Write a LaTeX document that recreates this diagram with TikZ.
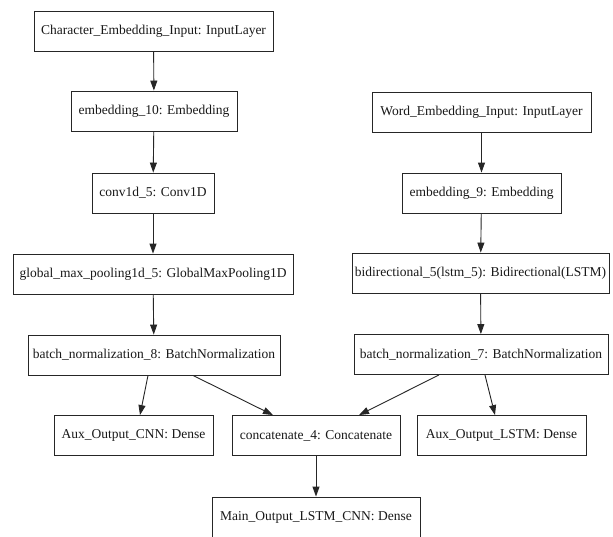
\documentclass[tikz,border=0pt]{standalone}
\usepackage{fontspec}
\setmainfont{Liberation Serif}
\usetikzlibrary{arrows.meta}
\begin{document}
\begin{tikzpicture}[x=1pt,y=-1pt,
  layer/.style={draw=black!85, line width=0.9pt, rectangle, minimum height=40pt,
    inner sep=0pt, font=\fontsize{13.5}{15}\selectfont, text=black!90, fill=white},
  flow/.style={draw=black!85, line width=0.9pt, -{Triangle[length=10pt,width=7pt]}}]
  \useasboundingbox[fill=white] (0,0) rectangle (613,536);

  % character branch
  \node[layer, minimum width=239pt] (char)   at (153.5,31)  {Character\_Embedding\_Input: InputLayer};
  \node[layer, minimum width=166pt] (emb10)  at (154,111)   {embedding\_10: Embedding};
  \node[layer, minimum width=122pt] (conv)   at (153,193)   {conv1d\_5: Conv1D};
  \node[layer, minimum width=280pt] (gmp)    at (153,274)   {global\_max\_pooling1d\_5: GlobalMaxPooling1D};
  \node[layer, minimum width=252pt] (bn8)    at (154,355)   {batch\_normalization\_8: BatchNormalization};

  % word branch
  \node[layer, minimum width=219pt] (word)   at (481.5,112) {Word\_Embedding\_Input: InputLayer};
  \node[layer, minimum width=159pt] (emb9)   at (481.5,193) {embedding\_9: Embedding};
  \node[layer, minimum width=257pt] (bidir)  at (480.5,273) {bidirectional\_5(lstm\_5): Bidirectional(LSTM)};
  \node[layer, minimum width=254pt] (bn7)    at (481,354.5) {batch\_normalization\_7: BatchNormalization};

  % outputs
  \node[layer, minimum width=159pt] (auxcnn)  at (133.5,435.5) {Aux\_Output\_CNN: Dense};
  \node[layer, minimum width=168pt] (concat)  at (316,435.5)   {concatenate\_4: Concatenate};
  \node[layer, minimum width=169pt] (auxlstm) at (501.5,435.5) {Aux\_Output\_LSTM: Dense};
  \node[layer, minimum width=208pt] (main)    at (316,517)     {Main\_Output\_LSTM\_CNN: Dense};

  % connectors
  \draw[flow] (char) -- (emb10);
  \draw[flow] (emb10) -- (conv);
  \draw[flow] (conv) -- (gmp);
  \draw[flow] (gmp) -- (bn8);
  \draw[flow] (word) -- (emb9);
  \draw[flow] (emb9) -- (bidir);
  \draw[flow] (bidir) -- (bn7);
  \draw[flow] ([xshift=-6pt]bn8.south) -- ([xshift=6.5pt]auxcnn.north);
  \draw[flow] ([xshift=39pt]bn8.south) -- ([xshift=-43pt]concat.north);
  \draw[flow] ([xshift=-42pt]bn7.south) -- ([xshift=43pt]concat.north);
  \draw[flow] ([xshift=4pt]bn7.south) -- ([xshift=-6.5pt]auxlstm.north);
  \draw[flow] (concat) -- (main);
\end{tikzpicture}
\end{document}
